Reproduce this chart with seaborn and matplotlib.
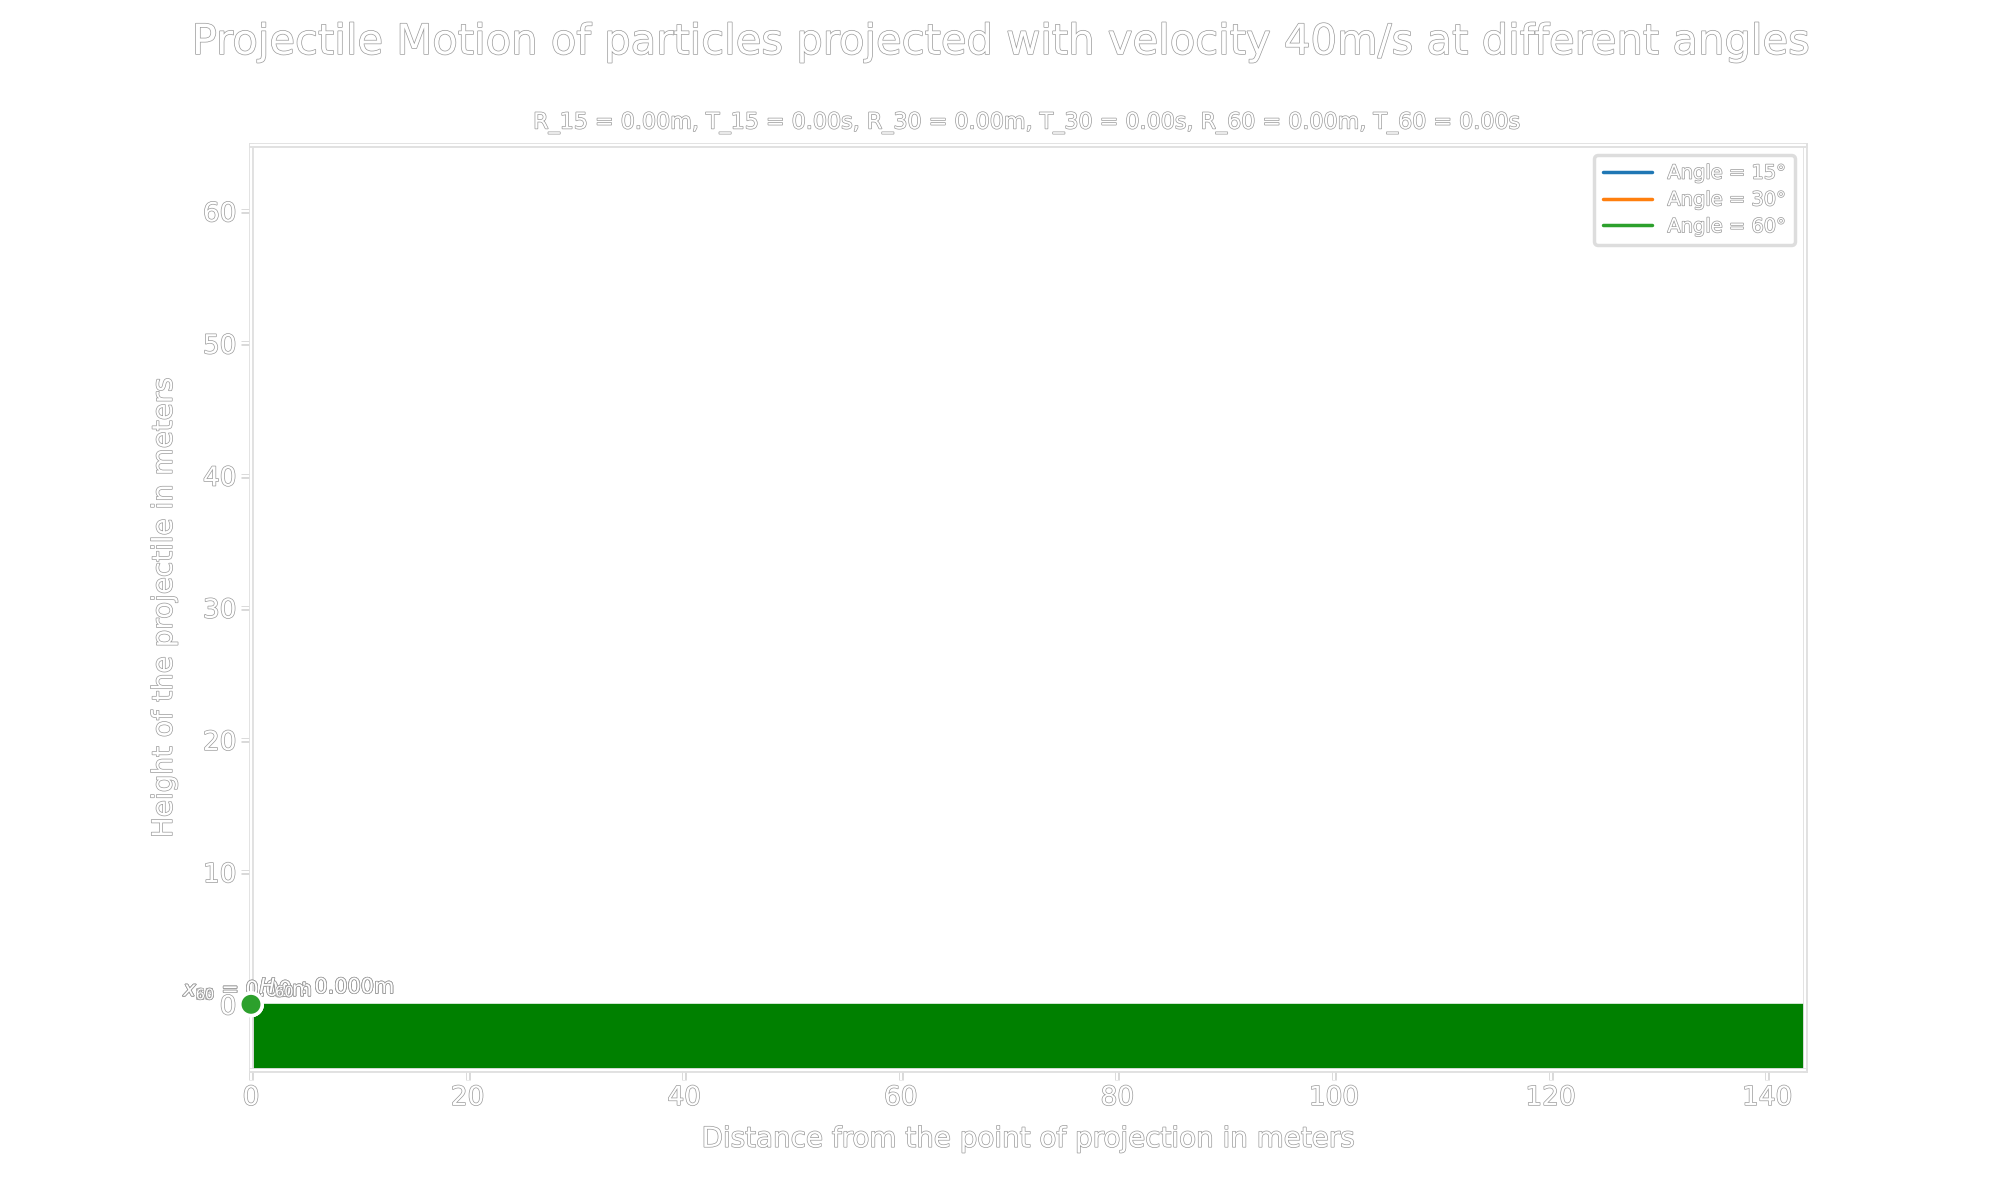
import matplotlib
matplotlib.use("Agg")
import matplotlib.pyplot as plt
import matplotlib.patheffects as pe
import seaborn as sns
import pandas as pd

# chart values (first frame of the animation: everything still at the origin)
angles = [15, 30, 60]
ranges = [0.00, 0.00, 0.00]
times = [0.00, 0.00, 0.00]
heights = [0.00, 0.00, 0.00]
traj_x = [[0.0], [0.0], [0.0]]
traj_y = [[0.0], [0.0], [0.0]]
point_x = [0.0, 0.0, 0.0]
point_y = [0.0, 0.0, 0.0]
ground_x = [0, 143.5]
ground_top = [0, 0]
ground_bottom = [-5, -5]

sns.set_theme(style="white")
outline = [pe.withStroke(linewidth=1.0, foreground="#9a9a9a")]
plt.rcParams["font.family"] = ["DejaVu Sans"]
plt.rcParams["text.color"] = "white"
plt.rcParams["axes.labelcolor"] = "white"
plt.rcParams["xtick.color"] = "white"
plt.rcParams["ytick.color"] = "white"

colors = sns.color_palette("tab10", 3)

fig, ax = plt.subplots(figsize=(20, 12), dpi=100)
fig.subplots_adjust(left=0.1255, right=0.9025, top=0.879, bottom=0.108)

for a, xs, ys, c in zip(angles, traj_x, traj_y, colors):
    ax.plot(xs, ys, color=c, lw=2.5, label=f"Angle = {a}°")

ax.fill_between(ground_x, ground_bottom, ground_top, color="green", zorder=2)

pts = pd.DataFrame({"x": point_x, "y": point_y, "angle": [str(a) for a in angles]})
sns.scatterplot(data=pts, x="x", y="y", hue="angle", palette=colors, s=260,
                edgecolor="white", linewidth=2.5, legend=False, ax=ax, zorder=5,
                clip_on=False)

for a, r, h in zip(angles, ranges, heights):
    ax.annotate(f"$x_{{{a}}}$ = {r:.2f}m", (0, 0), xytext=(-2, 6),
                textcoords="offset points", ha="center", fontsize=15,
                path_effects=outline)
    ax.annotate(f"$H_{{{a}}}$ : {h:.3f}m", (0, 0), xytext=(6, 8),
                textcoords="offset points", ha="left", fontsize=15,
                path_effects=outline)

ax.set_xlim(0, 143.5)
ax.set_ylim(-5, 65)
ax.set_xticks([0, 20, 40, 60, 80, 100, 120, 140])
ax.set_yticks([0, 10, 20, 30, 40, 50, 60])
ax.tick_params(axis="both", labelsize=19, length=7, width=1.5, direction="out",
               left=True, bottom=True, color="white")
for lab in ax.get_xticklabels() + ax.get_yticklabels():
    lab.set_path_effects(outline)
for tl in ax.xaxis.get_ticklines() + ax.yaxis.get_ticklines():
    tl.set_path_effects([pe.withStroke(linewidth=3.5, foreground="#d8d8d8")])
for sp in ax.spines.values():
    sp.set_color("white")
    sp.set_linewidth(1.5)
    sp.set_path_effects([pe.withStroke(linewidth=3.5, foreground="#e0e0e0")])

ax.set_xlabel("Distance from the point of projection in meters", fontsize=20,
              labelpad=10, path_effects=outline)
ax.set_ylabel("Height of the projectile in meters", fontsize=20,
              labelpad=18, path_effects=outline)

sub = ", ".join(f"R_{a} = {r:.2f}m, T_{a} = {t:.2f}s"
                for a, r, t in zip(angles, ranges, times))
ax.set_title(sub, fontsize=16, pad=12, path_effects=outline)
fig.suptitle("Projectile Motion of particles projected with velocity 40m/s at different angles",
             fontsize=30, y=0.965, va="center", path_effects=outline)

leg = ax.legend(loc="upper right", fontsize=14, frameon=True, fancybox=True,
                borderpad=0.45, labelspacing=0.4, handlelength=2.5)
leg.get_frame().set_edgecolor("#d5d5d5")
leg.get_frame().set_linewidth(2.5)
for t in leg.get_texts():
    t.set_path_effects(outline)

fig.savefig("out.png", dpi=100, facecolor="white")
